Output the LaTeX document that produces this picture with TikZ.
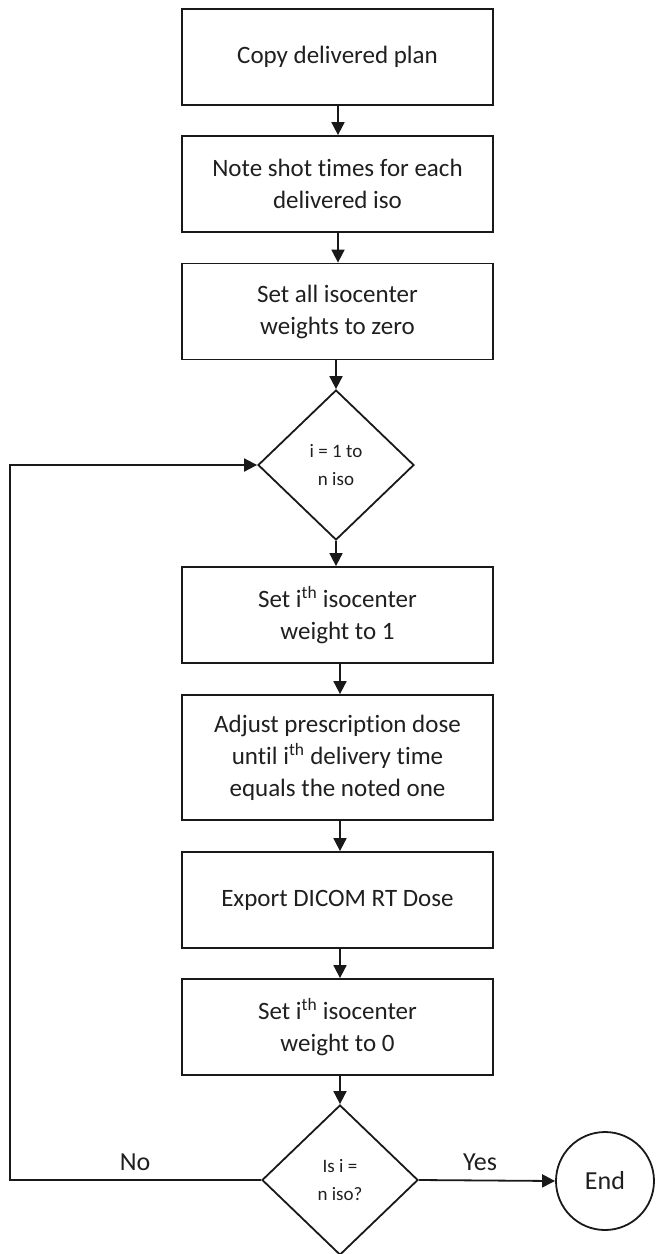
\documentclass[tikz,border=0pt]{standalone}
\usepackage{fontspec}
\setmainfont[Ligatures=NoCommon]{Carlito}
\usetikzlibrary{shapes.geometric,arrows.meta}
\begin{document}
\begin{tikzpicture}[x=1pt,y=-1pt,
  every node/.style={text=black!88},
  procbox/.style={draw=black!90, line width=1.8pt, minimum width=311pt, minimum height=96pt, inner sep=0pt, align=center, font=\fontsize{25}{32}\selectfont},
  decision/.style={draw=black!90, diamond, line width=1.8pt, minimum width=156pt, minimum height=150pt, inner sep=0pt, align=center, font=\fontsize{19}{28}\selectfont},
  terminal/.style={draw=black!90, circle, line width=1.8pt, minimum size=98pt, inner sep=0pt, font=\fontsize{26}{30}\selectfont},
  flow/.style={draw=black!90, line width=1.8pt, -{Triangle[length=13pt,width=13pt]}},
  lbl/.style={font=\fontsize{26}{30}\selectfont}]
\useasboundingbox (0,0) rectangle (657,1254);

\node[procbox] (b1) at (337.5,57) {Copy delivered plan};
\node[procbox] (b2) at (337.5,184) {Note shot times for each\\delivered iso};
\node[procbox] (b3) at (337.5,311.5) {Set all isocenter\\weights to zero};
\node[decision] (d1) at (336,465) {i = 1 to\\n iso};
\node[procbox] (b4) at (337.5,615) {Set i\textsuperscript{th} isocenter\\weight to 1};
\node[procbox, minimum height=125pt] (b5) at (337.5,757.5) {Adjust prescription dose\\until i\textsuperscript{th} delivery time\\equals the noted one};
\node[procbox] (b6) at (337.5,900) {Export DICOM RT Dose};
\node[procbox] (b7) at (337.5,1027) {Set i\textsuperscript{th} isocenter\\weight to 0};
\node[decision] (d2) at (340,1180) {Is i =\\n iso?};
\node[terminal] (end) at (605,1181) {End};

\coordinate (lc) at (10,1180);

\draw[flow] (b1.south -| 338,0) -- (b2.north -| 338,0);
\draw[flow] (b2.south -| 338,0) -- (b3.north -| 338,0);
\draw[flow] (b3.south -| d1.north) -- (d1.north);
\draw[flow] (d1.south) -- (b4.north -| d1.south);
\draw[flow] (b4.south -| 340,0) -- (b5.north -| 340,0);
\draw[flow] (b5.south -| 340,0) -- (b6.north -| 340,0);
\draw[flow] (b6.south -| 340,0) -- (b7.north -| 340,0);
\draw[flow] (b7.south -| d2.north) -- (d2.north);
\draw[flow] (d2.west) -- (lc) |- (d1.west);
\draw[flow] (d2.east) -- (end.west);

\node[lbl] (no) at (135,1162) {No};
\node[lbl] (yes) at (480,1162) {Yes};
\end{tikzpicture}
\end{document}
